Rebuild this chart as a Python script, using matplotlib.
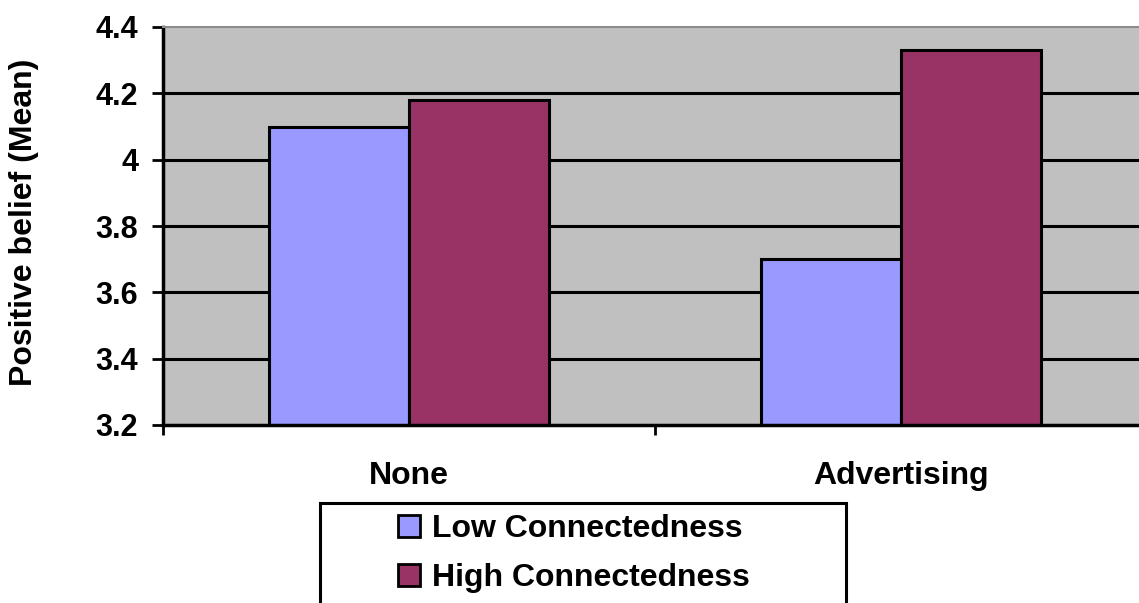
import matplotlib
matplotlib.use("Agg")
import matplotlib.pyplot as plt
from matplotlib.patches import Rectangle
import numpy as np

# data
categories = ["None", "Advertising"]
low_conn = [4.10, 3.70]
high_conn = [4.18, 4.33]
series_names = ["Low Connectedness", "High Connectedness"]
y_ticks = [3.2, 3.4, 3.6, 3.8, 4.0, 4.2, 4.4]
y_tick_labels = ["3.2", "3.4", "3.6", "3.8", "4", "4.2", "4.4"]

low_color = "#9999FF"
high_color = "#993366"

plt.rcParams["font.family"] = ["Liberation Sans", "DejaVu Sans"]
plt.rcParams["font.weight"] = "bold"

W, H = 1139, 603
fig = plt.figure(figsize=(W / 100, H / 100), dpi=100)
# plot area runs a little past the right edge of the canvas
ax = fig.add_axes([163 / W, 178 / H, 984 / W, 398 / H])
ax.set_facecolor("#C0C0C0")

x = np.arange(len(categories))
w = 0.285
ax.hlines(y_ticks[1:-1], -0.5, len(categories) - 0.5, color="black", lw=2.2, zorder=1)
ax.bar(x - w / 2, low_conn, w, color=low_color, edgecolor="black", linewidth=2.2, zorder=2)
ax.bar(x + w / 2, high_conn, w, color=high_color, edgecolor="black", linewidth=2.2, zorder=2)

ax.set_xlim(-0.5, len(categories) - 0.5)
ax.set_ylim(y_ticks[0], y_ticks[-1])

ax.set_yticks(y_ticks)
ax.set_yticklabels(y_tick_labels, fontsize=22, fontweight="bold")
ax.tick_params(axis="y", direction="out", length=8, width=2, pad=10)

ax.set_xticks(np.arange(len(categories) + 1) - 0.5)
ax.set_xticklabels([])
ax.tick_params(axis="x", which="major", direction="out", length=7.5, width=2)
ax.set_xticks(x, minor=True)
ax.set_xticklabels(categories, minor=True, fontsize=23, fontweight="bold")
ax.tick_params(axis="x", which="minor", length=0, pad=26)

for side in ["left", "bottom"]:
    ax.spines[side].set_color("black")
    ax.spines[side].set_linewidth(2.5)
ax.spines["top"].set_color("#8C8C8C")
ax.spines["top"].set_linewidth(1.5)
ax.spines["right"].set_visible(False)

fig.text(24 / W, 1 - 222 / H, "Positive belief (Mean)", rotation=90,
         ha="center", va="center", fontsize=23, fontweight="bold")

# legend box, cut off by the bottom edge
fig.patches.append(Rectangle((320 / W, -0.1), (846 - 320) / W, (603 - 503) / H + 0.1,
                             transform=fig.transFigure, fill=False,
                             edgecolor="black", linewidth=2.2))
handles = [Rectangle((0, 0), 1, 1, facecolor=low_color, edgecolor="black", linewidth=2),
           Rectangle((0, 0), 1, 1, facecolor=high_color, edgecolor="black", linewidth=2)]
fig.legend(handles, series_names, loc="upper left",
           bbox_to_anchor=(398 / W, 1 - 514 / H), frameon=False,
           borderpad=0, borderaxespad=0, labelspacing=0.6,
           handlelength=0.7, handleheight=0.7, handletextpad=0.35,
           prop={"size": 23, "weight": "bold"})

fig.savefig("out.png", dpi=100)
